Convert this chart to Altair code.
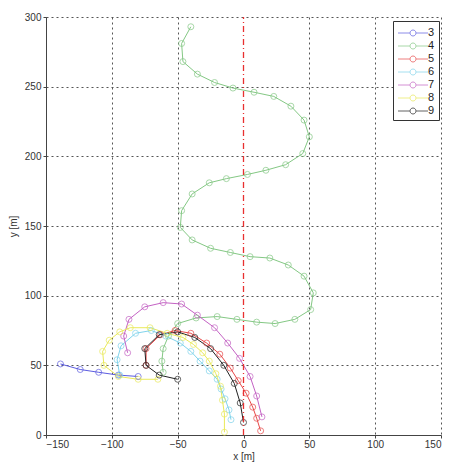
import altair as alt
import pandas as pd

# trajectories (x [m], y [m])
s3_x = [-139, -124, -110, -95, -80]
s3_y = [51, 47, 45, 43, 42]

s4_x = [-40, -47, -46, -35, -22, -8, 8, 23, 36, 46, 50, 45, 32, 17, 3, -13, -26, -39, -47, -48,
        -39, -25, -10, 5, 20, 34, 46, 53, 51, 39, 24, 10, -5, -20, -36, -50, -57, -61, -62, -61]
s4_y = [293, 281, 268, 259, 253, 249, 246, 243, 236, 226, 214, 202, 194, 190, 187, 184, 181, 173, 161, 149,
        140, 134, 131, 128, 127, 122, 114, 102, 90, 83, 80, 81, 83, 85, 84, 80, 71, 62, 53, 45]

s5_x = [-74, -74, -63, -52, -40, -28, -18, -10, -4, 2, 7, 10, 13]
s5_y = [50, 62, 72, 75, 73, 66, 58, 48, 39, 30, 20, 12, 3]

s6_x = [-94, -96, -93, -82, -70, -59, -48, -40, -33, -26, -20, -17, -14, -11, -9.5]
s6_y = [43, 54, 64, 73, 75, 71, 66, 60, 53, 46, 40, 33, 26, 18, 11]

s7_x = [-88, -91, -87, -75, -61, -47, -35, -22, -12, -3, 5, 10, 14]
s7_y = [59, 71, 83, 92, 95, 94, 86, 77, 66, 55, 42, 28, 13]

s8_x = [-65, -80, -95, -106, -107, -102, -94, -86, -71, -58, -46, -38, -31, -26, -21, -17.5, -16, -14.5, -14.5]
s8_y = [40, 40, 42, 50, 60, 68, 74, 77, 77, 73, 70, 65, 59, 53, 44, 35, 25, 15, 2]

s9_x = [-50, -64, -74, -75, -64, -50, -37, -25, -15, -7, -2.5, 0]
s9_y = [40, 43, 50, 62, 72, 74, 70, 62, 50, 37, 23, 9]

series = [("3", s3_x, s3_y), ("4", s4_x, s4_y), ("5", s5_x, s5_y), ("6", s6_x, s6_y),
          ("7", s7_x, s7_y), ("8", s8_x, s8_y), ("9", s9_x, s9_y)]
names = [s[0] for s in series]
colors = ["#5c5ce0", "#84c884", "#e84848", "#80d4ec", "#c462c4", "#eaea5a", "#222222"]

rows = []
for name, xs, ys in series:
    for i, (x, y) in enumerate(zip(xs, ys)):
        rows.append({"id": name, "x": x, "y": y, "order": i})
df = pd.DataFrame(rows)

ticks = [-150, -100, -50, 0, 50, 100, 150]
yticks = [0, 50, 100, 150, 200, 250, 300]

xenc = alt.X("x:Q", scale=alt.Scale(domain=[-150, 150], nice=False),
             axis=alt.Axis(values=ticks, title="x [m]",
                           gridColor={"condition": {"test": "datum.value == 0", "value": "#ffffff"},
                                      "value": "#555"}))
yenc = alt.Y("y:Q", scale=alt.Scale(domain=[0, 300], nice=False),
             axis=alt.Axis(values=yticks, title="y [m]"))

sym_path = "M-2,0H-0.4M0.4,0H2M0.4,0A0.4,0.4 0 1,1 -0.4,0A0.4,0.4 0 1,1 0.4,0"
color = alt.Color("id:N", scale=alt.Scale(domain=names, range=colors),
                  legend=alt.Legend(title=None, orient="none", legendX=347, legendY=4,
                                    symbolType=sym_path, symbolSize=225, symbolStrokeWidth=1,
                                    symbolFillColor="transparent", symbolOffset=8,
                                    labelFontSize=11, labelColor="#222", labelFont="Liberation Sans",
                                    strokeColor="#333", fillColor="white", padding=4,
                                    rowPadding=0, labelOffset=7))

base = alt.Chart(df)
lines = base.mark_line(strokeWidth=1).encode(x=xenc, y=yenc, color=color, order="order:Q", detail="id:N")
pts = base.mark_point(filled=False, size=36, strokeWidth=1).encode(x=xenc, y=yenc, color=color)

zero = pd.DataFrame({"x": [0], "y1": [0], "y2": [300]})
rule = alt.Chart(zero).mark_rule(strokeDash=[6, 3, 1, 3], strokeWidth=1.3).encode(
    x=alt.X("x:Q"), y=alt.Y("y1:Q"), y2="y2:Q",
    stroke=alt.value("#e83030"), color=alt.value("#e83030"))

chart = alt.layer(lines, pts, rule).properties(
    width=395, height=418,
    autosize=alt.AutoSizeParams(type="none"),
    padding={"left": 46, "top": 17, "right": 19, "bottom": 29},
    background="white",
).configure_view(stroke=None).configure_axis(
    grid=True, gridColor="#555", gridDash=[2, 3], gridOpacity=1, gridWidth=1,
    domainColor="#444", tickColor="#444", tickSize=3,
    labelFont="Liberation Sans", labelFontSize=10, labelColor="#333",
    titleFont="Liberation Sans", titleFontSize=10, titleFontWeight="normal", titleColor="#333",
).configure_axisX(labelPadding=1, titlePadding=2).configure_axisY(labelPadding=2, titlePadding=6)

chart.save("out.html", embed_options={"renderer": "svg", "actions": False})
